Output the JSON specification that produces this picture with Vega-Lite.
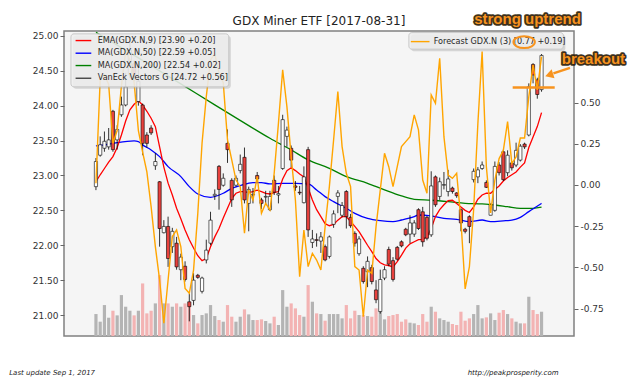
{
"$schema":"https://vega.github.io/schema/vega-lite/v6.json",
"width":510,"height":305,
"autosize":{"type":"none"},
"padding":{"left":64,"top":31,"right":66,"bottom":46},
"background":"#ffffff",
"config":{
 "locale":{"number":{"decimal":".","thousands":",","grouping":[3],"currency":["$",""],"minus":"-"}},
 "view":{"stroke":"#808080","strokeWidth":1.5,"fill":"#f5f5f5"},
 "font":"DejaVu Sans",
 "axis":{"labelFont":"DejaVu Sans","labelFontSize":9,"labelColor":"#333333","tickColor":"#666666","tickSize":4,"tickWidth":1,"domain":false,"grid":false,"labelPadding":2}
},
"datasets":{
"bars":[
{"i":0,"o":22.84,"h":23.25,"l":22.79,"c":23.2,"v":39.6,"e":22.91,"f":0.01},
{"i":1,"o":23.29,"h":23.56,"l":23.27,"c":23.44,"v":25.8,"e":23.01,"f":0.64},
{"i":2,"o":23.39,"h":23.63,"l":23.34,"c":23.49,"v":55.8,"e":23.1,"f":0.67},
{"i":3,"o":23.41,"h":23.68,"l":23.37,"c":23.51,"v":33,"e":23.19,"f":0.61},
{"i":4,"o":23.92,"h":23.94,"l":23.34,"c":23.37,"v":45.6,"e":23.27,"f":0.253},
{"i":5,"o":23.51,"h":23.72,"l":23.37,"c":23.66,"v":37.2,"e":23.4,"f":0.33},
{"i":6,"o":23.87,"h":24.13,"l":23.84,"c":24.01,"v":73.8,"e":23.58,"f":0.6},
{"i":7,"o":24.01,"h":24.47,"l":23.99,"c":24.27,"v":52.8,"e":23.78,"f":0.81},
{"i":8,"o":24.45,"h":24.98,"l":24.4,"c":24.8,"v":45.6,"e":23.94,"f":0.76},
{"i":9,"o":24.6,"h":24.65,"l":24.35,"c":24.42,"v":37.2,"e":24.02,"f":0.62},
{"i":10,"o":24.06,"h":24.56,"l":24.0,"c":24.35,"v":45.6,"e":24.07,"f":0.33},
{"i":11,"o":24.01,"h":24.03,"l":23.29,"c":23.46,"v":94.8,"e":24.01,"f":0.2},
{"i":12,"o":23.58,"h":23.62,"l":23.4,"c":23.46,"v":40.8,"e":23.92,"f":0.08},
{"i":13,"o":23.68,"h":23.72,"l":23.58,"c":23.61,"v":45.6,"e":23.82,"f":-0.131},
{"i":14,"o":23.14,"h":23.32,"l":23.08,"c":23.2,"v":58.8,"e":23.7,"f":-0.374},
{"i":15,"o":22.91,"h":22.92,"l":21.98,"c":22.24,"v":109.8,"e":23.41,"f":-0.576},
{"i":16,"o":22.18,"h":22.36,"l":22.17,"c":22.27,"v":58.8,"e":23.12,"f":-0.839},
{"i":17,"o":22.27,"h":22.41,"l":21.69,"c":21.81,"v":58.8,"e":22.89,"f":-0.576},
{"i":18,"o":21.98,"h":22.25,"l":21.89,"c":22.2,"v":52.8,"e":22.72,"f":-0.313},
{"i":19,"o":22.03,"h":22.12,"l":21.65,"c":21.69,"v":58.8,"e":22.53,"f":-0.273},
{"i":20,"o":21.65,"h":21.88,"l":21.5,"c":21.83,"v":52.8,"e":22.38,"f":-0.374},
{"i":21,"o":21.7,"h":21.77,"l":21.48,"c":21.51,"v":58.8,"e":22.22,"f":-0.627},
{"i":22,"o":21.19,"h":21.31,"l":20.91,"c":21.12,"v":58.8,"e":22.08,"f":-0.657},
{"i":23,"o":21.21,"h":21.6,"l":21.14,"c":21.5,"v":37.8,"e":21.96,"f":-0.516},
{"i":24,"o":21.57,"h":21.59,"l":21.52,"c":21.54,"v":22.8,"e":21.85,"f":-0.172},
{"i":25,"o":21.34,"h":21.55,"l":21.31,"c":21.53,"v":37.8,"e":21.78,"f":0.253},
{"i":26,"o":21.79,"h":22.08,"l":21.74,"c":21.93,"v":40.8,"e":21.81,"f":0.536},
{"i":27,"o":22.03,"h":22.48,"l":22.0,"c":22.36,"v":55.8,"e":21.98,"f":0.759},
{"i":28,"o":22.71,"h":22.8,"l":22.65,"c":22.73,"v":36,"e":22.12,"f":0.795},
{"i":29,"o":23.13,"h":23.15,"l":22.51,"c":22.8,"v":28.8,"e":22.24,"f":0.678},
{"i":30,"o":22.86,"h":23.03,"l":22.84,"c":22.96,"v":25.8,"e":22.39,"f":0.62},
{"i":31,"o":23.46,"h":23.66,"l":23.18,"c":23.37,"v":55.8,"e":22.53,"f":0.273},
{"i":32,"o":22.93,"h":22.96,"l":22.55,"c":22.65,"v":34.8,"e":22.67,"f":0.152},
{"i":33,"o":22.86,"h":23.0,"l":22.84,"c":22.96,"v":25.8,"e":22.745,"f":0.03},
{"i":34,"o":23.07,"h":23.3,"l":23.03,"c":23.16,"v":34.8,"e":22.77,"f":-0.01},
{"i":35,"o":23.26,"h":23.4,"l":22.6,"c":22.65,"v":48,"e":22.77,"f":-0.293},
{"i":36,"o":22.6,"h":22.84,"l":22.2,"c":22.8,"v":39,"e":22.755,"f":-0.03},
{"i":37,"o":22.72,"h":22.82,"l":22.6,"c":22.73,"v":28.8,"e":22.77,"f":-0.091},
{"i":38,"o":23.0,"h":23.05,"l":22.9,"c":22.95,"v":28.8,"e":22.79,"f":0.051},
{"i":39,"o":22.65,"h":22.68,"l":22.52,"c":22.6,"v":30,"e":22.77,"f":-0.172},
{"i":40,"o":22.69,"h":22.78,"l":22.6,"c":22.7,"v":27,"e":22.745,"f":-0.111},
{"i":41,"o":22.51,"h":22.78,"l":22.49,"c":22.7,"v":22.8,"e":22.735,"f":-0.152},
{"i":42,"o":22.93,"h":23.0,"l":22.72,"c":22.76,"v":34.8,"e":22.755,"f":0.071},
{"i":43,"o":22.72,"h":22.85,"l":22.6,"c":22.74,"v":19.8,"e":22.77,"f":0.374},
{"i":44,"o":23.1,"h":23.87,"l":23.08,"c":23.8,"v":82.8,"e":22.95,"f":0.698},
{"i":45,"o":23.56,"h":23.7,"l":23.41,"c":23.65,"v":52.8,"e":23.07,"f":0.475},
{"i":46,"o":23.39,"h":23.43,"l":23.12,"c":23.22,"v":58.8,"e":23.11,"f":0.172},
{"i":47,"o":22.85,"h":22.92,"l":22.78,"c":22.83,"v":49.8,"e":23.07,"f":-0.091},
{"i":48,"o":22.76,"h":22.85,"l":22.72,"c":22.75,"v":37.8,"e":23.02,"f":-0.556},
{"i":49,"o":22.61,"h":23.13,"l":22.6,"c":22.98,"v":34.8,"e":22.98,"f":-0.273},
{"i":50,"o":23.37,"h":23.41,"l":22.12,"c":22.22,"v":91.8,"e":22.82,"f":-0.495},
{"i":51,"o":22.04,"h":22.22,"l":21.96,"c":22.09,"v":61.8,"e":22.65,"f":-0.415},
{"i":52,"o":22.08,"h":22.17,"l":21.98,"c":22.07,"v":40.8,"e":22.51,"f":-0.455},
{"i":53,"o":22.06,"h":22.19,"l":21.89,"c":22.12,"v":39.6,"e":22.41,"f":-0.516},
{"i":54,"o":21.98,"h":22.01,"l":21.77,"c":21.79,"v":27.6,"e":22.31,"f":-0.253},
{"i":55,"o":21.84,"h":22.14,"l":21.81,"c":22.12,"v":39.6,"e":22.28,"f":-0.01},
{"i":56,"o":22.3,"h":22.5,"l":22.25,"c":22.45,"v":39.6,"e":22.3,"f":0.273},
{"i":57,"o":22.7,"h":22.79,"l":22.46,"c":22.75,"v":39.6,"e":22.36,"f":0.566},
{"i":58,"o":22.43,"h":22.62,"l":22.4,"c":22.57,"v":31.8,"e":22.41,"f":0.233},
{"i":59,"o":22.77,"h":22.79,"l":22.24,"c":22.41,"v":55.8,"e":22.41,"f":0.071},
{"i":60,"o":22.4,"h":22.45,"l":22.25,"c":22.28,"v":31.8,"e":22.34,"f":-0.01},
{"i":61,"o":22.17,"h":22.2,"l":21.98,"c":22.03,"v":45.6,"e":22.27,"f":-0.495},
{"i":62,"o":21.88,"h":22.13,"l":21.85,"c":22.09,"v":37.8,"e":22.195,"f":-0.516},
{"i":63,"o":21.67,"h":21.7,"l":21.45,"c":21.48,"v":37.8,"e":22.1,"f":-0.799},
{"i":64,"o":21.62,"h":21.84,"l":21.4,"c":21.77,"v":36,"e":22.0,"f":-0.516},
{"i":65,"o":21.68,"h":21.72,"l":21.44,"c":21.48,"v":34.8,"e":21.91,"f":-0.536},
{"i":66,"o":21.36,"h":21.5,"l":21.17,"c":21.22,"v":49.8,"e":21.81,"f":-0.253},
{"i":67,"o":21.05,"h":21.65,"l":21.02,"c":21.51,"v":45.6,"e":21.75,"f":-0.03},
{"i":68,"o":21.53,"h":21.7,"l":21.5,"c":21.65,"v":30,"e":21.72,"f":0.192},
{"i":69,"o":21.94,"h":21.98,"l":21.7,"c":21.73,"v":36,"e":21.71,"f":0.111},
{"i":70,"o":21.78,"h":21.83,"l":21.48,"c":21.51,"v":37.8,"e":21.69,"f":-0.01},
{"i":71,"o":21.97,"h":21.99,"l":21.78,"c":21.8,"v":39.6,"e":21.765,"f":0.111},
{"i":72,"o":22.05,"h":22.07,"l":21.97,"c":21.99,"v":25.8,"e":21.86,"f":0.233},
{"i":73,"o":22.23,"h":22.25,"l":22.13,"c":22.15,"v":30,"e":21.96,"f":0.263},
{"i":74,"o":22.16,"h":22.43,"l":22.03,"c":22.32,"v":24,"e":22.02,"f":0.293},
{"i":75,"o":22.16,"h":22.36,"l":22.12,"c":22.32,"v":22.8,"e":22.05,"f":0.425},
{"i":76,"o":22.51,"h":22.53,"l":22.22,"c":22.24,"v":19.8,"e":22.08,"f":0.334},
{"i":77,"o":22.48,"h":22.55,"l":21.98,"c":22.05,"v":39.6,"e":22.085,"f":0.03},
{"i":78,"o":22.4,"h":22.42,"l":22.07,"c":22.1,"v":25.8,"e":22.12,"f":-0.05},
{"i":79,"o":22.15,"h":23.06,"l":22.12,"c":22.85,"v":52.8,"e":22.24,"f":0.546},
{"i":80,"o":22.98,"h":23.0,"l":22.55,"c":22.58,"v":43.8,"e":22.41,"f":0.496},
{"i":81,"o":22.7,"h":22.97,"l":22.65,"c":22.91,"v":31.8,"e":22.51,"f":0.769},
{"i":82,"o":22.86,"h":23.05,"l":22.8,"c":22.87,"v":28.8,"e":22.58,"f":0.293},
{"i":83,"o":22.77,"h":23.08,"l":22.7,"c":22.95,"v":25.8,"e":22.64,"f":0.06},
{"i":84,"o":22.82,"h":22.84,"l":22.74,"c":22.77,"v":21.6,"e":22.645,"f":0.04},
{"i":85,"o":22.75,"h":22.76,"l":22.68,"c":22.71,"v":19.8,"e":22.6,"f":0.071},
{"i":86,"o":22.51,"h":22.53,"l":22.2,"c":22.32,"v":43.8,"e":22.55,"f":-0.212},
{"i":87,"o":22.23,"h":22.25,"l":22.17,"c":22.2,"v":27.6,"e":22.5,"f":-0.63},
{"i":88,"o":22.41,"h":22.43,"l":22.03,"c":22.27,"v":31.8,"e":22.47,"f":-0.495},
{"i":89,"o":22.94,"h":23.1,"l":22.9,"c":23.06,"v":39.6,"e":22.55,"f":-0.15},
{"i":90,"o":22.98,"h":23.12,"l":22.89,"c":23.08,"v":55.8,"e":22.66,"f":0.374},
{"i":91,"o":23.1,"h":23.2,"l":23.08,"c":23.15,"v":31.8,"e":22.72,"f":0.809},
{"i":92,"o":22.9,"h":22.93,"l":22.82,"c":22.83,"v":33.6,"e":22.745,"f":0.11},
{"i":93,"o":22.43,"h":22.6,"l":22.43,"c":22.58,"v":40.8,"e":22.745,"f":-0.17},
{"i":94,"o":22.5,"h":23.2,"l":22.48,"c":23.13,"v":28.8,"e":22.8,"f":0.03},
{"i":95,"o":23.15,"h":23.19,"l":23.0,"c":23.04,"v":42,"e":22.85,"f":0.16},
{"i":96,"o":23.34,"h":23.37,"l":22.92,"c":22.94,"v":46.8,"e":22.92,"f":0.21},
{"i":97,"o":23.04,"h":23.36,"l":22.99,"c":23.29,"v":39.6,"e":22.97,"f":0.384},
{"i":98,"o":23.18,"h":23.2,"l":23.07,"c":23.11,"v":31.8,"e":23.01,"f":0.13},
{"i":99,"o":23.15,"h":23.47,"l":23.12,"c":23.36,"v":25.8,"e":23.05,"f":0.17},
{"i":100,"o":23.22,"h":23.45,"l":23.2,"c":23.42,"v":22.8,"e":23.12,"f":0.285},
{"i":101,"o":23.45,"h":23.47,"l":23.38,"c":23.41,"v":22.8,"e":23.18,"f":0.285},
{"i":102,"o":23.58,"h":24.32,"l":23.56,"c":24.27,"v":70.8,"e":23.4,"f":0.536},
{"i":103,"o":24.59,"h":24.61,"l":24.32,"c":24.44,"v":46.8,"e":23.55,"f":0.728},
{"i":104,"o":24.37,"h":24.4,"l":24.1,"c":24.16,"v":39.6,"e":23.7,"f":0.577},
{"i":105,"o":24.23,"h":24.74,"l":24.2,"c":24.72,"v":43.8,"e":23.9,"f":0.779}
],
"ma50":[{"i":0,"m":23.423},{"i":2,"m":23.438},{"i":5,"m":23.471},{"i":9,"m":23.495},{"i":10,"m":23.485},{"i":11,"m":23.438},{"i":13,"m":23.366},{"i":15,"m":23.27},{"i":17,"m":23.127},{"i":20,"m":22.984},{"i":22,"m":22.84},{"i":24,"m":22.735},{"i":27,"m":22.687},{"i":30,"m":22.745},{"i":32,"m":22.816},{"i":34,"m":22.855},{"i":37,"m":22.898},{"i":39,"m":22.898},{"i":41,"m":22.879},{"i":44,"m":22.888},{"i":47,"m":22.888},{"i":50,"m":22.879},{"i":52,"m":22.793},{"i":54,"m":22.697},{"i":56,"m":22.625},{"i":59,"m":22.53},{"i":61,"m":22.458},{"i":64,"m":22.386},{"i":67,"m":22.353},{"i":70,"m":22.339},{"i":72,"m":22.362},{"i":75,"m":22.41},{"i":76,"m":22.434},{"i":79,"m":22.42},{"i":82,"m":22.386},{"i":85,"m":22.372},{"i":88,"m":22.339},{"i":91,"m":22.362},{"i":93,"m":22.339},{"i":96,"m":22.35},{"i":98,"m":22.36},{"i":100,"m":22.4},{"i":102,"m":22.482},{"i":105,"m":22.6}],
"ma200":[{"i":0,"m":25.05},{"i":10,"m":24.685},{"i":20,"m":24.312},{"i":28,"m":24.011},{"i":36,"m":23.715},{"i":41,"m":23.533},{"i":46,"m":23.366},{"i":50,"m":23.223},{"i":55,"m":23.103},{"i":59,"m":22.984},{"i":64,"m":22.888},{"i":68,"m":22.793},{"i":72,"m":22.706},{"i":75,"m":22.659},{"i":79,"m":22.645},{"i":83,"m":22.625},{"i":87,"m":22.601},{"i":91,"m":22.592},{"i":94,"m":22.577},{"i":97,"m":22.553},{"i":100,"m":22.53},{"i":103,"m":22.53},{"i":105,"m":22.545}]
},
"layer":[
 {"data":{"name":"bars"},"mark":{"type":"bar","width":3.2},
  "encoding":{
   "x":{"field":"i","type":"quantitative","scale":{"domain":[-6.35,111.47],"nice":false,"zero":false},
        "axis":{"values":[0,19,41,63,83,105],"title":null,"labelLineHeight":11,
                "labelExpr":"datum.value == 0 ? ['Apr','2017'] : datum.value == 19 ? ['May','2017'] : datum.value == 41 ? ['Jun','2017'] : datum.value == 63 ? ['Jul','2017'] : ['Aug','2017']"}},
   "y":{"field":"v","type":"quantitative","scale":{"domain":[0,550],"nice":false},"axis":null},
   "color":{"condition":{"test":"datum.c >= datum.o","value":"#b4b4b4"},"value":"#f3b3b3"}
  }},
 {"layer":[
   {"data":{"name":"ma200"},"mark":{"type":"line","color":"#008000","strokeWidth":1.3,"interpolate":"monotone"},
    "encoding":{"x":{"field":"i","type":"quantitative","scale":{"domain":[-6.35,111.47],"nice":false,"zero":false},"axis":null},
     "y":{"field":"m","type":"quantitative","scale":{"domain":[20.7,25.07],"nice":false,"zero":false},"axis":{"orient":"left","values":[21,21.5,22,22.5,23,23.5,24,24.5,25],"format":".2f","title":null}}}},
   {"data":{"name":"ma50"},"mark":{"type":"line","color":"#0000ff","strokeWidth":1.3,"interpolate":"monotone"},
    "encoding":{"x":{"field":"i","type":"quantitative","scale":{"domain":[-6.35,111.47],"nice":false,"zero":false},"axis":null},
     "y":{"field":"m","type":"quantitative","scale":{"domain":[20.7,25.07],"nice":false,"zero":false},"axis":{"orient":"left","values":[21,21.5,22,22.5,23,23.5,24,24.5,25],"format":".2f","title":null}}}},
   {"data":{"name":"bars"},"mark":{"type":"line","color":"#ff0000","strokeWidth":1.3},
    "encoding":{"x":{"field":"i","type":"quantitative","scale":{"domain":[-6.35,111.47],"nice":false,"zero":false},"axis":null},
     "y":{"field":"e","type":"quantitative","scale":{"domain":[20.7,25.07],"nice":false,"zero":false},"axis":{"orient":"left","values":[21,21.5,22,22.5,23,23.5,24,24.5,25],"format":".2f","title":null}}}},
   {"data":{"name":"bars"},"mark":{"type":"rule","color":"#000000","strokeWidth":0.8},
    "encoding":{"x":{"field":"i","type":"quantitative","scale":{"domain":[-6.35,111.47],"nice":false,"zero":false},"axis":null},
     "y":{"field":"l","type":"quantitative","scale":{"domain":[20.7,25.07],"nice":false,"zero":false},"axis":{"orient":"left","values":[21,21.5,22,22.5,23,23.5,24,24.5,25],"format":".2f","title":null}},
     "y2":{"field":"h"}}},
   {"data":{"name":"bars"},"mark":{"type":"bar","width":3.2,"stroke":"#000000","strokeWidth":0.6},
    "encoding":{"x":{"field":"i","type":"quantitative","scale":{"domain":[-6.35,111.47],"nice":false,"zero":false},"axis":null},
     "y":{"field":"o","type":"quantitative","scale":{"domain":[20.7,25.07],"nice":false,"zero":false},"axis":{"orient":"left","values":[21,21.5,22,22.5,23,23.5,24,24.5,25],"format":".2f","title":null}},
     "y2":{"field":"c"},
     "fill":{"condition":{"test":"datum.c >= datum.o","value":"#ffffff"},"value":"#e8413d"}}}
 ]},
 {"data":{"name":"bars"},"mark":{"type":"line","color":"#ffa500","strokeWidth":1.4},
  "encoding":{"x":{"field":"i","type":"quantitative","scale":{"domain":[-6.35,111.47],"nice":false,"zero":false},"axis":null},
   "y":{"field":"f","type":"quantitative","scale":{"domain":[-0.916,0.934],"nice":false,"zero":false},"axis":{"orient":"right","values":[-0.75,-0.5,-0.25,0,0.25,0.5],"format":".2f","title":null}}}},
 {"layer":[
   {"data":{"values":[{"x":-5.89,"x2":31.3,"y":25.029,"y2":24.27},{"x":73.74,"x2":110.14,"y":25.047,"y2":24.81}]},
    "mark":{"type":"rect","fill":"#9a9a9a","opacity":0.35,"cornerRadius":3,"xOffset":2,"x2Offset":2,"yOffset":2,"y2Offset":2},
    "encoding":{"x":{"field":"x","type":"quantitative","scale":{"domain":[-6.35,111.47],"nice":false,"zero":false},"axis":null},"x2":{"field":"x2"},
     "y":{"field":"y","type":"quantitative","scale":{"domain":[20.7,25.07],"nice":false,"zero":false},"axis":null},"y2":{"field":"y2"}}},
   {"data":{"values":[{"x":-5.89,"x2":31.3,"y":25.029,"y2":24.27},{"x":73.74,"x2":110.14,"y":25.047,"y2":24.81}]},
    "mark":{"type":"rect","fill":"#efefef","fillOpacity":0.85,"stroke":"#c8c8c8","strokeWidth":1,"cornerRadius":3},
    "encoding":{"x":{"field":"x","type":"quantitative","scale":{"domain":[-6.35,111.47],"nice":false,"zero":false},"axis":null},"x2":{"field":"x2"},
     "y":{"field":"y","type":"quantitative","scale":{"domain":[20.7,25.07],"nice":false,"zero":false},"axis":null},"y2":{"field":"y2"}}},
   {"data":{"values":[{"x":-4.8,"x2":-1.1,"y":24.933,"s":"a"},{"x":-4.8,"x2":-1.1,"y":24.752,"s":"b"},{"x":-4.8,"x2":-1.1,"y":24.575,"s":"c"},{"x":-4.8,"x2":-1.1,"y":24.393,"s":"d"},{"x":74.2,"x2":78.6,"y":24.918,"s":"e"}]},
    "mark":{"type":"rule","strokeWidth":1.4},
    "encoding":{"x":{"field":"x","type":"quantitative","scale":{"domain":[-6.35,111.47],"nice":false,"zero":false},"axis":null},"x2":{"field":"x2"},
     "y":{"field":"y","type":"quantitative","scale":{"domain":[20.7,25.07],"nice":false,"zero":false},"axis":null},
     "color":{"field":"s","type":"nominal","scale":{"domain":["a","b","c","d","e"],"range":["#ff0000","#0000ff","#008000","#444444","#ffa500"]},"legend":null}}},
   {"data":{"values":[{"x":0.42,"y":24.933,"t":"EMA(GDX.N,9) [23.90 +0.20]"},{"x":0.42,"y":24.752,"t":"MA(GDX.N,50) [22.59 +0.05]"},{"x":0.42,"y":24.575,"t":"MA(GDX.N,200) [22.54 +0.02]"},{"x":0.42,"y":24.393,"t":"VanEck Vectors G [24.72 +0.56]"},{"x":79.58,"y":24.918,"t":"Forecast GDX.N (3) [0.77 +0.19]"}]},
    "mark":{"type":"text","align":"left","baseline":"middle","fontSize":8.1,"color":"#262626","font":"DejaVu Sans"},
    "encoding":{"x":{"field":"x","type":"quantitative","scale":{"domain":[-6.35,111.47],"nice":false,"zero":false},"axis":null},
     "y":{"field":"y","type":"quantitative","scale":{"domain":[20.7,25.07],"nice":false,"zero":false},"axis":null},
     "text":{"field":"t"}}},
   {"data":{"values":[{"x":100.9,"y":24.911}]},
    "mark":{"type":"point","shape":"M-1,0C-1,-0.3038,-0.5523,-0.55,0,-0.55C0.5523,-0.55,1,-0.3038,1,0C1,0.3038,0.5523,0.55,0,0.55C-0.5523,0.55,-1,0.3038,-1,0Z","size":460,"filled":false,"stroke":"#f7931e","strokeWidth":2,"opacity":1},
    "encoding":{"x":{"field":"x","type":"quantitative","scale":{"domain":[-6.35,111.47],"nice":false,"zero":false},"axis":null},
     "y":{"field":"y","type":"quantitative","scale":{"domain":[20.7,25.07],"nice":false,"zero":false},"axis":null}}},
   {"data":{"values":[{"x":98.2,"x2":108.1,"y":24.259,"y2":24.259},{"x":111.7,"x2":107.8,"y":24.541,"y2":24.462}]},
    "mark":{"type":"rule","color":"#f7931e","strokeWidth":2.5},
    "encoding":{"x":{"field":"x","type":"quantitative","scale":{"domain":[-6.35,111.47],"nice":false,"zero":false},"axis":null},"x2":{"field":"x2"},
     "y":{"field":"y","type":"quantitative","scale":{"domain":[20.7,25.07],"nice":false,"zero":false},"axis":null},"y2":{"field":"y2"}}},
   {"data":{"values":[{"x":106.8,"y":24.44}]},
    "mark":{"type":"point","shape":"triangle-left","size":90,"filled":true,"color":"#f7931e","opacity":1,"angle":342},
    "encoding":{"x":{"field":"x","type":"quantitative","scale":{"domain":[-6.35,111.47],"nice":false,"zero":false},"axis":null},
     "y":{"field":"y","type":"quantitative","scale":{"domain":[20.7,25.07],"nice":false,"zero":false},"axis":null}}},
   {"data":{"values":[{"x":101.69,"y":25.244,"t":"strong uptrend"},{"x":117.23,"y":24.666,"t":"breakout"}]},
    "mark":{"type":"text","align":"center","baseline":"middle","fontSize":15,"fontWeight":"bold","font":"Liberation Sans","stroke":"#2a1a05","strokeWidth":3.5,"strokeJoin":"round","fill":"#2a1a05","opacity":0.9},
    "encoding":{"x":{"field":"x","type":"quantitative","scale":{"domain":[-6.35,111.47],"nice":false,"zero":false},"axis":null},
     "y":{"field":"y","type":"quantitative","scale":{"domain":[20.7,25.07],"nice":false,"zero":false},"axis":null},
     "text":{"field":"t"}}},
   {"data":{"values":[{"x":101.69,"y":25.244,"t":"strong uptrend"},{"x":117.23,"y":24.666,"t":"breakout"}]},
    "mark":{"type":"text","align":"center","baseline":"middle","fontSize":15,"fontWeight":"bold","font":"Liberation Sans","fill":"#f7931e"},
    "encoding":{"x":{"field":"x","type":"quantitative","scale":{"domain":[-6.35,111.47],"nice":false,"zero":false},"axis":null},
     "y":{"field":"y","type":"quantitative","scale":{"domain":[20.7,25.07],"nice":false,"zero":false},"axis":null},
     "text":{"field":"t"}}},
   {"data":{"values":[{"x":52.55,"y":25.215,"t":"GDX Miner ETF  [2017-08-31]"}]},
    "mark":{"type":"text","align":"center","baseline":"middle","fontSize":12,"color":"#222222","font":"DejaVu Sans"},
    "encoding":{"x":{"field":"x","type":"quantitative","scale":{"domain":[-6.35,111.47],"nice":false,"zero":false},"axis":null},
     "y":{"field":"y","type":"quantitative","scale":{"domain":[20.7,25.07],"nice":false,"zero":false},"axis":null},
     "text":{"field":"t"}}},
   {"data":{"values":[{"x":-20.44,"y":20.168,"t":"Last update Sep  1, 2017","a":"left"},{"x":98.29,"y":20.168,"t":"http://peakprosperity.com","a":"center"}]},
    "mark":{"type":"text","baseline":"middle","fontSize":7,"fontStyle":"italic","color":"#222222","font":"DejaVu Sans","align":{"expr":"datum.a"}},
    "encoding":{"x":{"field":"x","type":"quantitative","scale":{"domain":[-6.35,111.47],"nice":false,"zero":false},"axis":null},
     "y":{"field":"y","type":"quantitative","scale":{"domain":[20.7,25.07],"nice":false,"zero":false},"axis":null},
     "text":{"field":"t"}}}
 ]}
],
"resolve":{"scale":{"y":"independent"}}
}
